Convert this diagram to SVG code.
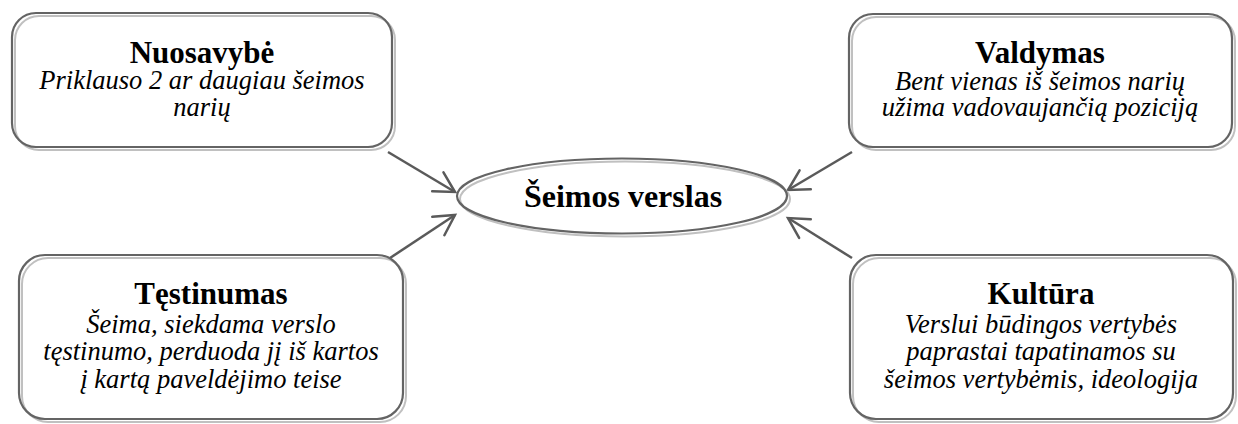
<svg xmlns="http://www.w3.org/2000/svg" width="1238" height="424" viewBox="0 0 1238 424">
<style>
.sh{fill:none;stroke:#c0c0c0;stroke-width:2}
.bx{fill:none;stroke:#646464;stroke-width:2.2}
.t{font-family:"Liberation Serif","Times New Roman",serif;font-weight:bold;font-size:31px;fill:#000;text-anchor:middle}
.b{font-family:"Liberation Serif","Times New Roman",serif;font-style:italic;font-size:26.5px;fill:#000;text-anchor:middle}
.c{font-family:"Liberation Serif","Times New Roman",serif;font-weight:bold;font-size:32px;fill:#000;text-anchor:middle}
.ar{fill:none;stroke:#5a5a5a;stroke-width:2.5;marker-end:url(#ah)}
</style>
<defs>
<marker id="ah" markerUnits="userSpaceOnUse" viewBox="-24 -14 28 28" markerWidth="28" markerHeight="28" refX="0" refY="0" orient="auto" overflow="visible">
<path d="M-20,-11 L0,0 L-20,11" fill="none" stroke="#5a5a5a" stroke-width="2.5" stroke-linecap="round" stroke-linejoin="miter"/>
</marker>
</defs>
<rect width="1238" height="424" fill="#fff"/>
<g id="connectors">
<line class="ar" x1="388" y1="152" x2="455" y2="192"/>
<line class="ar" x1="390" y1="258" x2="455" y2="215"/>
<line class="ar" x1="852" y1="152" x2="788" y2="190"/>
<line class="ar" x1="852" y1="258" x2="788" y2="218"/>
</g>
<g id="center">
<ellipse class="sh" cx="625" cy="199" rx="165" ry="37.5"/>
<ellipse class="bx" cx="622" cy="196" rx="165" ry="37.5"/>
<text class="c" x="623" y="207">Šeimos verslas</text>
</g>
<g id="nuosavybe">
<rect class="sh" x="15" y="16" width="380" height="134" rx="24"/>
<rect class="bx" x="12" y="13" width="380" height="134" rx="24"/>
<text class="t" x="202" y="63">Nuosavybė</text>
<text class="b" x="202" y="89">Priklauso 2 ar daugiau šeimos</text>
<text class="b" x="202" y="116">narių</text>
</g>
<g id="valdymas">
<rect class="sh" x="852" y="17" width="383" height="133" rx="24"/>
<rect class="bx" x="849" y="14" width="383" height="133" rx="24"/>
<text class="t" x="1040" y="63">Valdymas</text>
<text class="b" x="1040" y="90">Bent vienas iš šeimos narių</text>
<text class="b" x="1040" y="116">užima vadovaujančią poziciją</text>
</g>
<g id="testinumas">
<rect class="sh" x="22" y="258" width="384" height="164" rx="26"/>
<rect class="bx" x="19" y="255" width="384" height="164" rx="26"/>
<text class="t" x="211" y="304">Tęstinumas</text>
<text class="b" x="211" y="333">Šeima, siekdama verslo</text>
<text class="b" x="211" y="360">tęstinumo, perduoda jį iš kartos</text>
<text class="b" x="211" y="388">į kartą paveldėjimo teise</text>
</g>
<g id="kultura">
<rect class="sh" x="853" y="258" width="383" height="164" rx="26"/>
<rect class="bx" x="850" y="255" width="383" height="164" rx="26"/>
<text class="t" x="1041" y="304">Kultūra</text>
<text class="b" x="1041" y="333">Verslui būdingos vertybės</text>
<text class="b" x="1041" y="360">paprastai tapatinamos su</text>
<text class="b" x="1041" y="388">šeimos vertybėmis, ideologija</text>
</g>
</svg>
